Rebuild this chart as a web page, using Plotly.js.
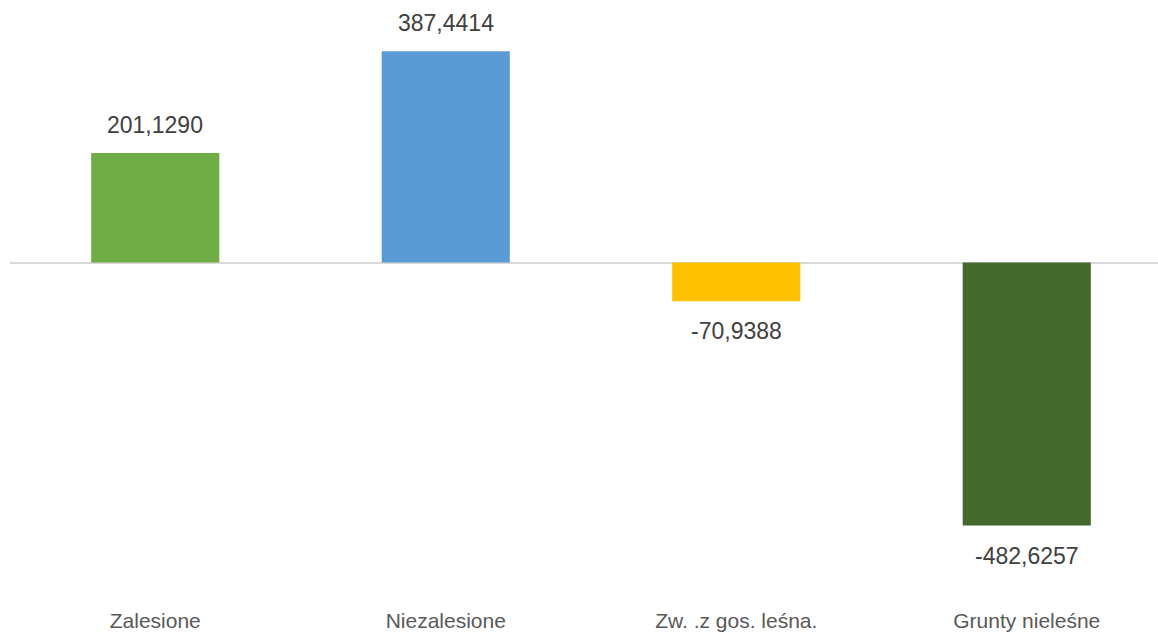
<!DOCTYPE html>
<html>
<head>
<meta charset="utf-8">
<script src="https://cdn.plot.ly/plotly-3.0.1.min.js"></script>
<style>
html,body{margin:0;padding:0;overflow:hidden;background:#fff;}
#chart{width:1172px;height:632px;}
</style>
</head>
<body>
<div id="chart"></div>
<script>
const categories = ["Zalesione", "Niezalesione", "Zw. .z gos. leśna.", "Grunty nieleśne"];
const values = [201.1290, 387.4414, -70.9388, -482.6257];
const labels = ["201,1290", "387,4414", "-70,9388", "-482,6257"];
const colors = ["#70AD47", "#5B9BD5", "#FFC000", "#43682B"];

const trace = {
  type: "bar",
  x: categories,
  y: values,
  marker: {color: colors},
  hoverinfo: "skip",
  cliponaxis: false
};

const annotations = categories.map((c, i) => ({
  x: c,
  y: values[i],
  xref: "x",
  yref: "y",
  text: labels[i],
  showarrow: false,
  yanchor: "middle",
  yshift: values[i] >= 0 ? 28 : -30,
  font: {family: "Liberation Sans, Arial, sans-serif", size: 23, color: "#404040"}
}));

const layout = {
  width: 1172,
  height: 632,
  margin: {l: 10, r: 0, t: 20, b: 26},
  paper_bgcolor: "#ffffff",
  plot_bgcolor: "#ffffff",
  showlegend: false,
  bargap: 0.559,
  xaxis: {
    type: "category",
    showline: false,
    showgrid: false,
    zeroline: false,
    ticks: "",
    tickfont: {family: "Liberation Sans, Arial, sans-serif", size: 21, color: "#595959"}
  },
  yaxis: {
    range: [-630.3, 445.0],
    showgrid: false,
    showticklabels: false,
    ticks: "",
    showline: false,
    zeroline: true,
    zerolinecolor: "#d9d9d9",
    zerolinewidth: 2
  },
  annotations: annotations
};

Plotly.newPlot("chart", [trace], layout, {staticPlot: true, displayModeBar: false});
</script>
</body>
</html>
